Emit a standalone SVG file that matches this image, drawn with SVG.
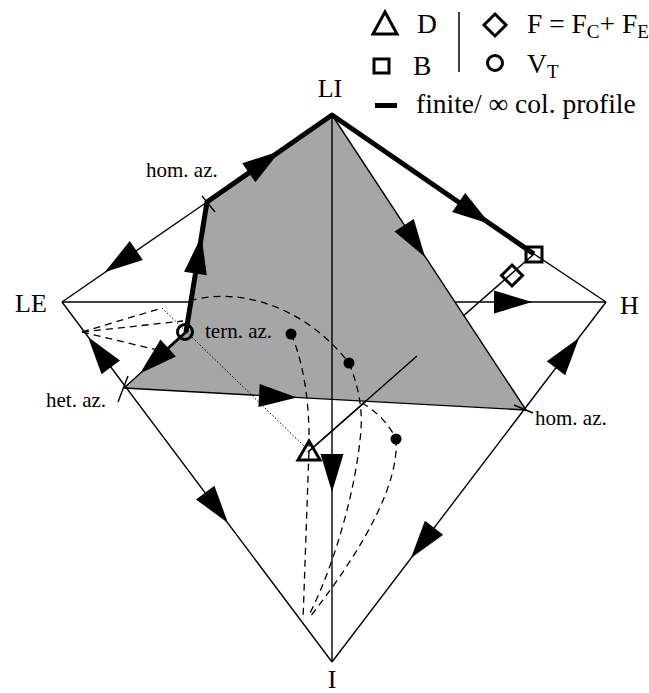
<svg xmlns="http://www.w3.org/2000/svg" width="649" height="693" viewBox="0 0 649 693">
<style>
.thin{stroke:#000;stroke-width:1.4;fill:none}
.thick{stroke:#000;stroke-width:5;fill:none;stroke-linejoin:round}
.dash{stroke:#000;stroke-width:1.3;fill:none;stroke-dasharray:7,5}
.dot{stroke:#000;stroke-width:1;fill:none;stroke-dasharray:1.5,2}
.sym{stroke:#000;stroke-width:3;fill:none}
.lbl{font-family:"Liberation Serif","Times New Roman",serif;font-size:26px;fill:#000}
.leg{font-family:"Liberation Serif","Times New Roman",serif;font-size:27.5px;fill:#000}
.sm{font-family:"Liberation Serif","Times New Roman",serif;font-size:21px;fill:#000}
</style>
<defs>
<path id="ah" d="M0,0 L-38,-11.5 L-38,11.5 Z" fill="#000"/>
</defs>
<rect width="649" height="693" fill="#fff"/>

<g id="connectors">
  <!-- under the gray face -->
  <line class="thin" x1="62" y1="302" x2="606" y2="302"/>
  <line class="thin" x1="308" y1="452" x2="534" y2="254"/>
  <!-- gray face -->
  <polygon points="332,115 207,202 186,332 124,388 526,410" fill="#a6a6a6" stroke="none"/>
  <!-- edges -->
  <line class="thin" x1="62" y1="302" x2="207" y2="202"/>
  <line class="thin" x1="534" y1="254" x2="606" y2="302"/>
  <line class="thin" x1="606" y1="302" x2="332" y2="662"/>
  <line class="thin" x1="62" y1="302" x2="332" y2="662"/>
  <line class="thin" x1="332" y1="115" x2="332" y2="662"/>
  <line class="thin" x1="332" y1="115" x2="526" y2="410"/>
  <line class="thin" x1="124" y1="388" x2="526" y2="410"/>
  <line class="thin" x1="186" y1="332" x2="124" y2="388"/>
  <line class="thin" x1="308" y1="452" x2="417" y2="356"/>
  <!-- ticks -->
  <line class="thin" x1="202" y1="196" x2="215" y2="212"/>
  <line class="thin" x1="118" y1="402" x2="128" y2="376"/>
  <line class="thin" x1="514" y1="405" x2="533" y2="413"/>
  <!-- thick column profile -->
  <polyline class="thick" points="186,332 207,202 332,115 534,254"/>
  <line stroke="#000" stroke-width="3" x1="186" y1="332" x2="165" y2="351"/>
  <!-- dashed / dotted -->
  <line class="dash" x1="82" y1="332" x2="162" y2="308"/>
  <line class="dash" x1="82" y1="332" x2="183" y2="321"/>
  <line class="dash" x1="82" y1="332" x2="170" y2="353"/>
  <line class="dot" x1="162" y1="308" x2="305" y2="447"/>
  <path class="dash" d="M190,301 C230,288 300,300 349,363"/>
  <path class="dash" d="M291,334 C305,365 310,410 309,450 L303,620"/>
  <path class="dash" d="M349,363 C358,385 364,410 360,440 C355,490 335,565 308,617"/>
  <path class="dash" d="M362,403 C375,410 390,425 396,439"/>
  <path class="dash" d="M396,439 C399,480 370,540 310,617"/>
  <!-- arrowheads -->
  <use href="#ah" transform="translate(105,272) rotate(145.4)"/>
  <use href="#ah" transform="translate(88,337) rotate(-126.87)"/>
  <use href="#ah" transform="translate(228,523) rotate(53.13)"/>
  <use href="#ah" transform="translate(579,338) rotate(-52.7)"/>
  <use href="#ah" transform="translate(411,558) rotate(127.3)"/>
  <use href="#ah" transform="translate(532,302) rotate(0)"/>
  <use href="#ah" transform="translate(332,492) rotate(90)"/>
  <use href="#ah" transform="translate(297,397.5) rotate(3.13)"/>
  <use href="#ah" transform="translate(425,257) rotate(56.7)"/>
  <use href="#ah" transform="translate(490,224) rotate(34.5)"/>
  <use href="#ah" transform="translate(280,151) rotate(-34.8)"/>
  <use href="#ah" transform="translate(201.5,236) rotate(-80.8)"/>
  <use href="#ah" transform="translate(140,373.5) rotate(137.9)"/>
</g>

<g id="node-VT"><circle class="sym" cx="185" cy="332" r="7.5"/></g>
<g id="node-D"><polygon class="sym" points="309,441 298,460 320,460"/></g>
<g id="node-B"><rect class="sym" x="526" y="247" width="16" height="15"/></g>
<g id="node-F"><polygon class="sym" points="512,265 522.5,275.5 512,286 501.5,275.5" fill="#fff"/></g>
<g id="node-dots">
  <circle cx="291" cy="334" r="5.5"/>
  <circle cx="349" cy="363" r="5.5"/>
  <circle cx="396" cy="439" r="5.5"/>
</g>

<g id="node-LI"><text class="lbl" x="330" y="97" text-anchor="middle">LI</text></g>
<g id="node-LE"><text class="lbl" x="15" y="312">LE</text></g>
<g id="node-H"><text class="lbl" x="620" y="314">H</text></g>
<g id="node-I"><text class="lbl" x="332" y="688" text-anchor="middle">I</text></g>
<g id="labels">
  <text class="sm" x="146" y="177">hom. az.</text>
  <text class="sm" x="205" y="338">tern. az.</text>
  <text class="sm" x="46" y="407">het. az.</text>
  <text class="sm" x="535" y="425">hom. az.</text>
</g>

<g id="legend">
  <polygon class="sym" points="385,12 373,34 397,34"/>
  <text class="leg" x="417" y="33">D</text>
  <rect class="sym" x="374" y="59" width="15" height="14"/>
  <text class="leg" x="413" y="75">B</text>
  <rect x="375" y="103" width="22" height="5" fill="#000"/>
  <text class="leg" x="416" y="113">finite/ ∞ col. profile</text>
  <line stroke="#000" stroke-width="1.5" x1="459" y1="12" x2="459" y2="72"/>
  <polygon class="sym" points="495,14 506,25 495,36 484,25"/>
  <text class="leg" x="527" y="33">F = F<tspan font-size="19" dy="5">C</tspan><tspan dy="-5">+ F</tspan><tspan font-size="19" dy="5">E</tspan></text>
  <circle class="sym" cx="495" cy="63" r="7.5"/>
  <text class="leg" x="527" y="73">V<tspan font-size="19" dy="5">T</tspan></text>
</g>
</svg>
